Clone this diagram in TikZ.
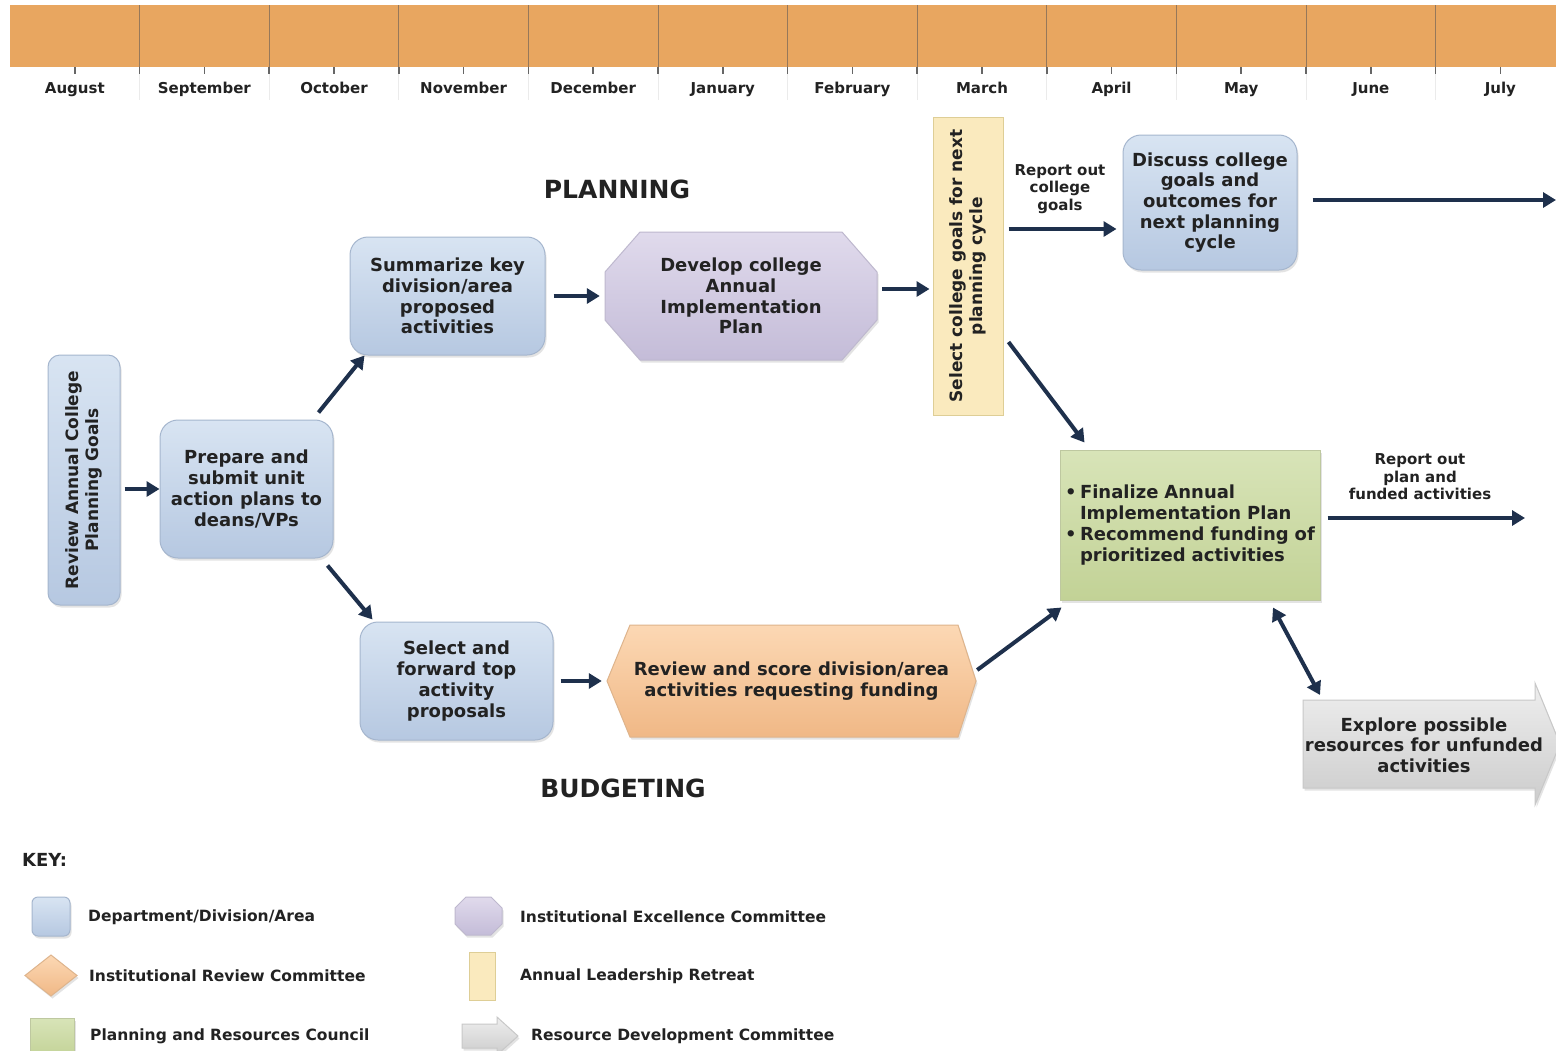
\documentclass[tikz,border=0pt]{standalone}
\usepackage{fontspec}
\setmainfont{DejaVu Sans}
\usetikzlibrary{arrows.meta,shadows,calc}
\definecolor{band}{RGB}{232,166,96}
\definecolor{bandline}{RGB}{150,120,90}
\definecolor{blueT}{RGB}{216,228,242}
\definecolor{blueB}{RGB}{182,200,225}
\definecolor{blueBorder}{RGB}{165,182,206}
\definecolor{purT}{RGB}{224,218,236}
\definecolor{purB}{RGB}{196,188,216}
\definecolor{purBorder}{RGB}{190,184,206}
\definecolor{orT}{RGB}{252,216,180}
\definecolor{orB}{RGB}{240,184,134}
\definecolor{orBorder}{RGB}{222,180,140}
\definecolor{yel}{RGB}{250,234,190}
\definecolor{yelBorder}{RGB}{222,206,150}
\definecolor{grT}{RGB}{216,228,184}
\definecolor{grB}{RGB}{194,210,150}
\definecolor{grBorder}{RGB}{190,200,160}
\definecolor{gyT}{RGB}{238,238,238}
\definecolor{gyB}{RGB}{204,204,204}
\definecolor{gyBorder}{RGB}{200,200,200}
\definecolor{navy}{RGB}{30,48,76}
\definecolor{txt}{RGB}{34,34,34}
\newcommand\boxfont{\fontsize{18}{20.7}\selectfont\bfseries}
\newcommand\retfont{\fontsize{17}{20.5}\selectfont\bfseries}
\newcommand\monthfont{\fontsize{15}{18}\selectfont\bfseries}
\newcommand\lblfont{\fontsize{15}{17.5}\selectfont\bfseries}
\newcommand\legfont{\fontsize{15.5}{18}\selectfont\bfseries}
\newcommand\bigfont{\fontsize{25}{30}\selectfont\bfseries}
\tikzset{
  shadowed/.style={drop shadow={shadow xshift=1.5pt,shadow yshift=-2.5pt,opacity=0.22}},
  bluebox/.style={shadowed,rounded corners=18pt,draw=blueBorder,line width=1pt,top color=blueT,bottom color=blueB,align=center,font=\boxfont,text=txt,inner sep=2pt},
  yellowbox/.style={draw=yelBorder,line width=1pt,fill=yel,align=center,font=\retfont,text=txt,inner sep=2pt},
  greenbox/.style={shadowed,draw=grBorder,line width=1pt,top color=grT,bottom color=grB,font=\boxfont,text=txt},
  purshape/.style={shadowed,draw=purBorder,line width=1pt,top color=purT,bottom color=purB},
  orshape/.style={shadowed,draw=orBorder,line width=1pt,top color=orT,bottom color=orB},
  gyshape/.style={shadowed,draw=gyBorder,line width=1pt,top color=gyT,bottom color=gyB},
  boxtext/.style={align=center,font=\boxfont,text=txt,inner sep=0pt},
  lbl/.style={align=center,font=\lblfont,text=txt,inner sep=0pt},
  legtext/.style={anchor=west,font=\legfont,text=txt,inner sep=0pt},
  month/.style={font=\monthfont,text=txt,inner sep=0pt,anchor=base},
  arr/.style={draw=navy,line width=4pt,-{Triangle[length=13pt,width=15pt]}},
  darr/.style={draw=navy,line width=4pt,{Triangle[length=13pt,width=15pt]}-{Triangle[length=13pt,width=15pt]}},
}
\begin{document}
\begin{tikzpicture}[x=1pt,y=-1pt]
\useasboundingbox (0,0) rectangle (1556,1050);
\fill[white] (0,0) rectangle (1556,1050);
% timeline band
\fill[band] (10,5) rectangle (1556,67);
\foreach \i in {1,...,11} {
  \pgfmathsetmacro\bx{10+129.6*\i}
  \draw[bandline,line width=1pt] (\bx,5) -- (\bx,67);
  \draw[black!60,line width=1.5pt] (\bx,67) -- (\bx,74);
  \draw[black!8,line width=0.8pt] (\bx,74) -- (\bx,100);
}
\foreach \m [count=\i from 0] in {August,September,October,November,December,January,February,March,April,May,June,July} {
  \pgfmathsetmacro\cx{10+129.6*\i+64.8}
  \draw[black!60,line width=1.5pt] (\cx,67) -- (\cx,74);
  \node[month] (m\i) at (\cx,93.5) {\m};
}
% titles
\node[font=\bigfont,text=txt] (planning) at (617,189) {PLANNING};
\node[font=\bigfont,text=txt] (budgeting) at (623,788) {BUDGETING};
% blue boxes
\node[bluebox,font=\retfont,rounded corners=12pt,rotate=90,minimum width=250pt,minimum height=72pt] (review) at (84,480) {Review Annual College\\Planning Goals};
\node[bluebox,minimum width=173pt,minimum height=138pt] (prepare) at (246.5,489) {Prepare and\\submit unit\\action plans to\\deans/VPs};
\node[bluebox,minimum width=195pt,minimum height=118pt] (summarize) at (447.5,296) {Summarize key\\division/area\\proposed\\activities};
\node[bluebox,minimum width=193pt,minimum height=118pt] (selfwd) at (456.5,681) {Select and\\forward top\\activity\\proposals};
\node[bluebox,minimum width=174pt,minimum height=135pt] (discuss) at (1210,202.5) {Discuss college\\goals and\\outcomes for\\next planning\\cycle};
% develop octagon
\shade[purshape] (640,232) -- (842,232) -- (877,272) -- (877,320) -- (842,360) -- (640,360) -- (605,320) -- (605,272) -- cycle;
\node[boxtext,minimum width=272pt,minimum height=128pt] (develop) at (741,296) {Develop college\\Annual\\Implementation\\Plan};
% retreat
\node[yellowbox,rotate=90,minimum width=298pt,minimum height=70pt] (retreat) at (968,266) {Select college goals for next\\planning cycle};
% finalize
\node[greenbox,minimum width=260pt,minimum height=150pt,text width=250pt,align=left,inner xsep=5pt] (finalize) at (1190,525)
  {\makebox[15pt][l]{•}Finalize Annual\\\hspace*{15pt}Implementation Plan\\\makebox[15pt][l]{•}Recommend funding of\\\hspace*{15pt}prioritized activities};
% score hexagon
\shade[orshape] (630,625) -- (958,625) -- (976,681) -- (958,737) -- (630,737) -- (607,681) -- cycle;
\node[boxtext,minimum width=369pt,minimum height=112pt] (score) at (791.5,681) {Review and score division/area\\activities requesting funding};
% explore arrow
\shade[gyshape] (1303,700) -- (1535,700) -- (1535,683) -- (1560,744) -- (1535,805) -- (1535,788) -- (1303,788) -- cycle;
\coordinate (exploreTL) at (1303,700);
\node[boxtext] (explore) at (1424,745) {Explore possible\\resources for unfunded\\activities};
% labels
\node[lbl] (rcg) at (1060,189) {Report out\\college\\goals};
\node[lbl] (rpf) at (1420,477) {Report out\\plan and\\funded activities};
% connectors
\coordinate (outA) at (1556,200);
\coordinate (outB) at (1525,518);
\coordinate (dIn) at ($(discuss.west)+(0,26.5)$);
\coordinate (devOut) at ($(develop.east)+(0,-7)$);
\coordinate (retIn) at (devOut -| retreat.north);
\draw[arr,shorten <=4pt] (review.south |- prepare.west) -- (prepare.west);
\draw[arr] ($(prepare.north east)+(-15,-7)$) -- ($(summarize.south west)+(15,0)$);
\draw[arr] ($(prepare.south east)+(-6,7)$) -- ($(selfwd.north west)+(13,-2)$);
\draw[arr,shorten <=8pt,shorten >=5pt] (summarize.east) -- (summarize.east -| develop.west);
\draw[arr,shorten <=5pt,shorten >=3pt] (devOut) -- (retIn);
\draw[arr,shorten <=5pt,shorten >=6pt] (retreat.south |- dIn) -- (dIn);
\draw[arr,shorten <=15pt] ($(discuss.east)+(0,-2.5)$) -- (outA);
\draw[arr] ($(retreat.south)+(5,76)$) -- ($(finalize.north west)+(25,-7)$);
\draw[arr,shorten <=7pt,shorten >=5pt] (selfwd.east) -- (selfwd.east -| score.west);
\draw[arr] ($(score.east)+(1,-11)$) -- ($(finalize.south west)+(2,7)$);
\draw[darr] ($(finalize.south)+(83,7)$) -- ($(exploreTL)+(17,-5)$);
\draw[arr] ($(finalize.east)+(7,-7)$) -- (outB);
% key
\node[anchor=west,font=\fontsize{18}{20}\selectfont\bfseries,text=txt,inner sep=0pt] (key) at (22,860) {KEY:};
\node[bluebox,rounded corners=6pt,minimum width=38pt,minimum height=39pt] (kdept) at (51,916.5) {};
\node[legtext] (ldept) at (88,917) {Department/Division/Area};
\shade[purshape] (466,897) -- (491,897) -- (502,908) -- (502,924) -- (491,935) -- (466,935) -- (455,924) -- (455,908) -- cycle;
\node[legtext] (lexc) at (520,917) {Institutional Excellence Committee};
\shade[orshape] (51,955) -- (77,975.5) -- (51,996) -- (25,975.5) -- cycle;
\node[legtext] (lrev) at (89,976) {Institutional Review Committee};
\fill[yel,draw=yelBorder,line width=1pt] (469,952) rectangle (495,1000);
\node[legtext] (lret) at (520,976) {Annual Leadership Retreat};
\shade[greenbox] (30,1018) rectangle (74,1058);
\node[legtext] (lprc) at (90,1036) {Planning and Resources Council};
\shade[gyshape] (462,1024) -- (497,1024) -- (497,1017) -- (518,1036) -- (497,1055) -- (497,1048) -- (462,1048) -- cycle;
\node[legtext] (lrdc) at (531,1036) {Resource Development Committee};
\end{tikzpicture}
\end{document}
